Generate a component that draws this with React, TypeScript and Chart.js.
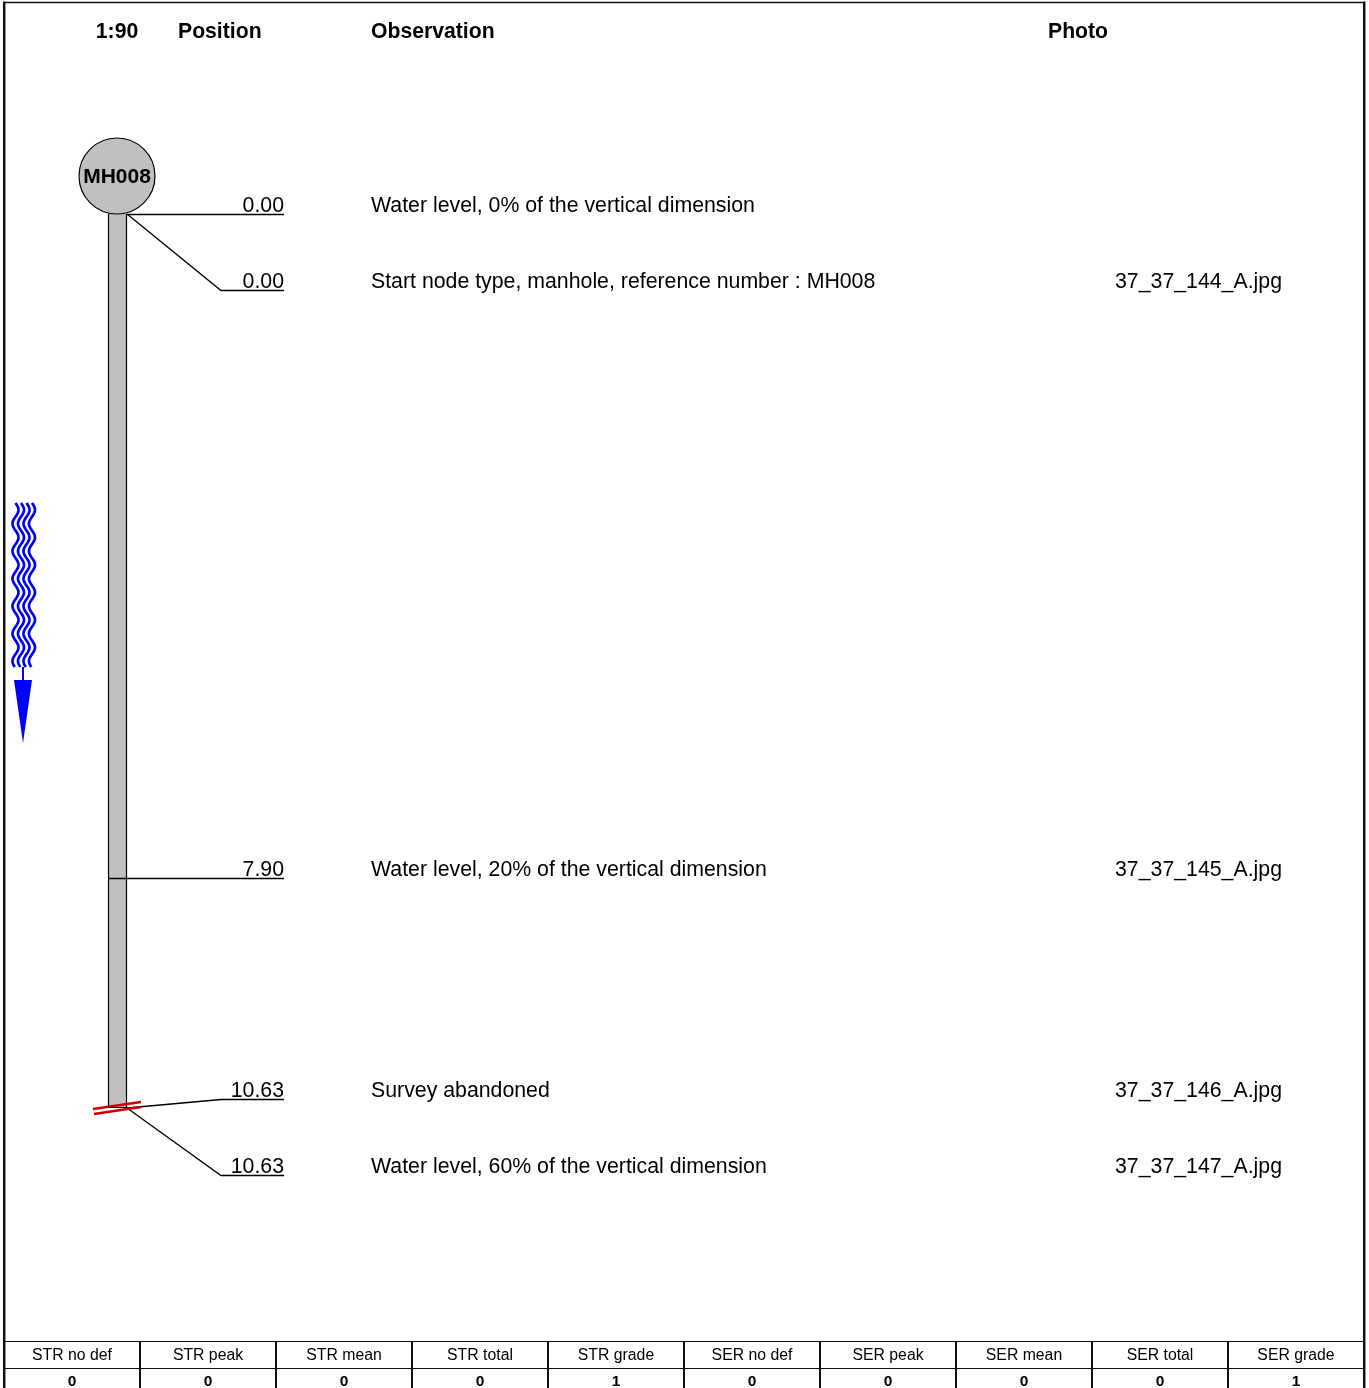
import React, { useEffect, useRef } from "react";
import { Chart, registerables } from "chart.js";

Chart.register(...registerables);

// ---------- data ----------
const scaleLabel = "1:90";
const columnHeaders = ["Position", "Observation", "Photo"];
const startNode = "MH008";
const surveyLength = 10.63;
const positions = [0.0, 0.0, 7.9, 10.63, 10.63];
const observations = [
  "Water level, 0% of the vertical dimension",
  "Start node type, manhole, reference number : MH008",
  "Water level, 20% of the vertical dimension",
  "Survey abandoned",
  "Water level, 60% of the vertical dimension",
];
const photos = ["", "37_37_144_A.jpg", "37_37_145_A.jpg", "37_37_146_A.jpg", "37_37_147_A.jpg"];
const gradeHeaders = [
  "STR no def", "STR peak", "STR mean", "STR total", "STR grade",
  "SER no def", "SER peak", "SER mean", "SER total", "SER grade",
];
const gradeValues = [0, 0, 0, 0, 1, 0, 0, 0, 0, 1];

// ---------- layout ----------
const W = 1369;
const H = 1388;
const TOP_PX = 214; // pixel of position 0
const PX_PER_M = 84.1;
const PIPE_X = 117;
const FONT = "'Liberation Sans', Arial, sans-serif";
// label line offsets (px) relative to the observation's position
const LEADER_SHIFT = [0, 76, 0, -9, 67];

const reportPlugin = {
  id: "report",
  afterDatasetsDraw(chart: any) {
    const ctx: CanvasRenderingContext2D = chart.ctx;
    const ys = chart.scales.y;
    const xs = chart.scales.x;
    const px = (v: number) => xs.getPixelForValue(v);
    const py = (v: number) => ys.getPixelForValue(v);
    ctx.save();

    // frame
    ctx.strokeStyle = "#111";
    ctx.lineWidth = 1.5;
    ctx.beginPath();
    ctx.moveTo(4, 2.5);
    ctx.lineTo(1364, 2.5);
    ctx.stroke();
    ctx.lineWidth = 2.5;
    ctx.beginPath();
    ctx.moveTo(4.2, 1.5);
    ctx.lineTo(4.2, H);
    ctx.moveTo(1364.2, 1.5);
    ctx.lineTo(1364.2, H);
    ctx.stroke();

    // headers
    ctx.fillStyle = "#000";
    ctx.font = `bold 21.2px ${FONT}`;
    ctx.textBaseline = "middle";
    ctx.textAlign = "center";
    ctx.fillText(scaleLabel, 117, 32.5);
    ctx.textAlign = "left";
    ctx.fillText(columnHeaders[0], 178, 32.5);
    ctx.fillText(columnHeaders[1], 371, 32.5);
    ctx.fillText(columnHeaders[2], 1048, 32.5);

    const y0 = py(0);
    const yEnd = py(surveyLength);
    const pl = PIPE_X - 9;
    const pr = PIPE_X + 9;

    // pipe
    ctx.fillStyle = "#c0c0c0";
    ctx.fillRect(pl, y0, pr - pl, yEnd - y0);
    ctx.strokeStyle = "#000";
    ctx.lineWidth = 1.2;
    ctx.beginPath();
    ctx.moveTo(pl + 0.5, y0);
    ctx.lineTo(pl + 0.5, yEnd);
    ctx.moveTo(pr + 0.5, y0);
    ctx.lineTo(pr + 0.5, yEnd);
    ctx.stroke();

    // manhole
    ctx.beginPath();
    ctx.arc(PIPE_X, y0 - 38, 38, 0, Math.PI * 2);
    ctx.fillStyle = "#c0c0c0";
    ctx.fill();
    ctx.lineWidth = 1.2;
    ctx.strokeStyle = "#000";
    ctx.stroke();
    ctx.fillStyle = "#000";
    ctx.font = `bold 21px ${FONT}`;
    ctx.textAlign = "center";
    ctx.fillText(startNode, PIPE_X, y0 - 37);

    // observations
    positions.forEach((p, i) => {
      const yp = py(p);
      const ly = Math.round(yp + LEADER_SHIFT[i]) + 0.5;
      ctx.strokeStyle = "#000";
      ctx.lineWidth = 1.3;
      ctx.beginPath();
      if (Math.abs(ly - 0.5 - Math.round(yp)) < 1) {
        const startX = p > 0 && p < surveyLength ? pl : pr + 1;
        ctx.moveTo(startX, ly);
        ctx.lineTo(px(284), ly);
      } else {
        ctx.moveTo(pr + 1, yp);
        ctx.lineTo(px(221), ly);
        ctx.lineTo(px(284), ly);
      }
      ctx.stroke();

      ctx.fillStyle = "#000";
      ctx.font = `21.3px ${FONT}`;
      ctx.textAlign = "right";
      ctx.textBaseline = "alphabetic";
      ctx.fillText(p.toFixed(2), px(284), ly - 3);
      ctx.textAlign = "left";
      ctx.fillText(observations[i], px(371), ly - 3);
      if (photos[i]) ctx.fillText(photos[i], px(1115), ly - 3);
    });

    // abandoned marker
    ctx.strokeStyle = "#cc0000";
    ctx.lineWidth = 2.5;
    ctx.beginPath();
    ctx.moveTo(93, yEnd + 1);
    ctx.lineTo(141, yEnd - 6);
    ctx.moveTo(94, yEnd + 6);
    ctx.lineTo(141, yEnd - 1);
    ctx.stroke();
    ctx.strokeStyle = "#000";
    ctx.lineWidth = 1;
    ctx.beginPath();
    ctx.moveTo(pl, Math.round(yEnd) - 0.5);
    ctx.lineTo(pr + 1, Math.round(yEnd) - 0.5);
    ctx.stroke();

    // flow direction (wavy lines + arrow)
    ctx.strokeStyle = "#0000ff";
    ctx.lineWidth = 2.7;
    for (let k = 0; k < 4; k++) {
      const cx = 15.5 + k * 5.5;
      ctx.beginPath();
      for (let y = 503; y <= 667; y += 1) {
        const x = cx + 3 * Math.sin(((y - 503) / 27.5) * Math.PI * 2);
        if (y === 503) ctx.moveTo(x, y);
        else ctx.lineTo(x, y);
      }
      ctx.stroke();
    }
    ctx.lineWidth = 2;
    ctx.beginPath();
    ctx.moveTo(23, 667);
    ctx.lineTo(23, 681);
    ctx.stroke();
    ctx.fillStyle = "#0000ff";
    ctx.beginPath();
    ctx.moveTo(14, 680);
    ctx.lineTo(32, 680);
    ctx.lineTo(23, 743);
    ctx.closePath();
    ctx.fill();

    // grade table
    const tTop = 1341.5;
    const tMid = 1368.5;
    const colW = 136;
    ctx.strokeStyle = "#111";
    ctx.lineWidth = 1.2;
    ctx.beginPath();
    ctx.moveTo(4, tTop);
    ctx.lineTo(1364, tTop);
    ctx.moveTo(4, tMid);
    ctx.lineTo(1364, tMid);
    ctx.stroke();
    ctx.lineWidth = 2;
    ctx.beginPath();
    for (let c = 1; c < gradeHeaders.length; c++) {
      const x = 4 + c * colW;
      ctx.moveTo(x, tTop);
      ctx.lineTo(x, H);
    }
    ctx.stroke();
    ctx.fillStyle = "#000";
    ctx.textAlign = "center";
    ctx.textBaseline = "middle";
    gradeHeaders.forEach((h, c) => {
      const cx = 4 + c * colW + colW / 2;
      ctx.font = `15.8px ${FONT}`;
      ctx.fillText(h, cx, 1356);
      ctx.font = `bold 15.5px ${FONT}`;
      ctx.fillText(String(gradeValues[c]), cx, 1382);
    });

    ctx.restore();
  },
};

export default function App() {
  const ref = useRef<HTMLCanvasElement | null>(null);
  useEffect(() => {
    if (!ref.current) return;
    const chart = new Chart(ref.current, {
      type: "scatter",
      data: {
        datasets: [
          {
            label: "observations",
            data: positions.map((p) => ({ x: PIPE_X, y: p })),
            pointRadius: 0,
            showLine: false,
          },
        ],
      },
      options: {
        animation: false,
        responsive: false,
        devicePixelRatio: 1,
        layout: { padding: 0 },
        events: [],
        plugins: { legend: { display: false }, tooltip: { enabled: false } },
        scales: {
          x: { type: "linear", display: false, min: 0, max: W },
          y: {
            type: "linear",
            display: false,
            reverse: true,
            min: -TOP_PX / PX_PER_M,
            max: (H - TOP_PX) / PX_PER_M,
          },
        },
      },
      plugins: [reportPlugin],
    } as any);
    return () => chart.destroy();
  }, []);
  return (
    <div style={{ position: "absolute", left: 0, top: 0, width: W, height: H, background: "#fff" }}>
      <canvas ref={ref} width={W} height={H} style={{ display: "block" }} />
    </div>
  );
}
